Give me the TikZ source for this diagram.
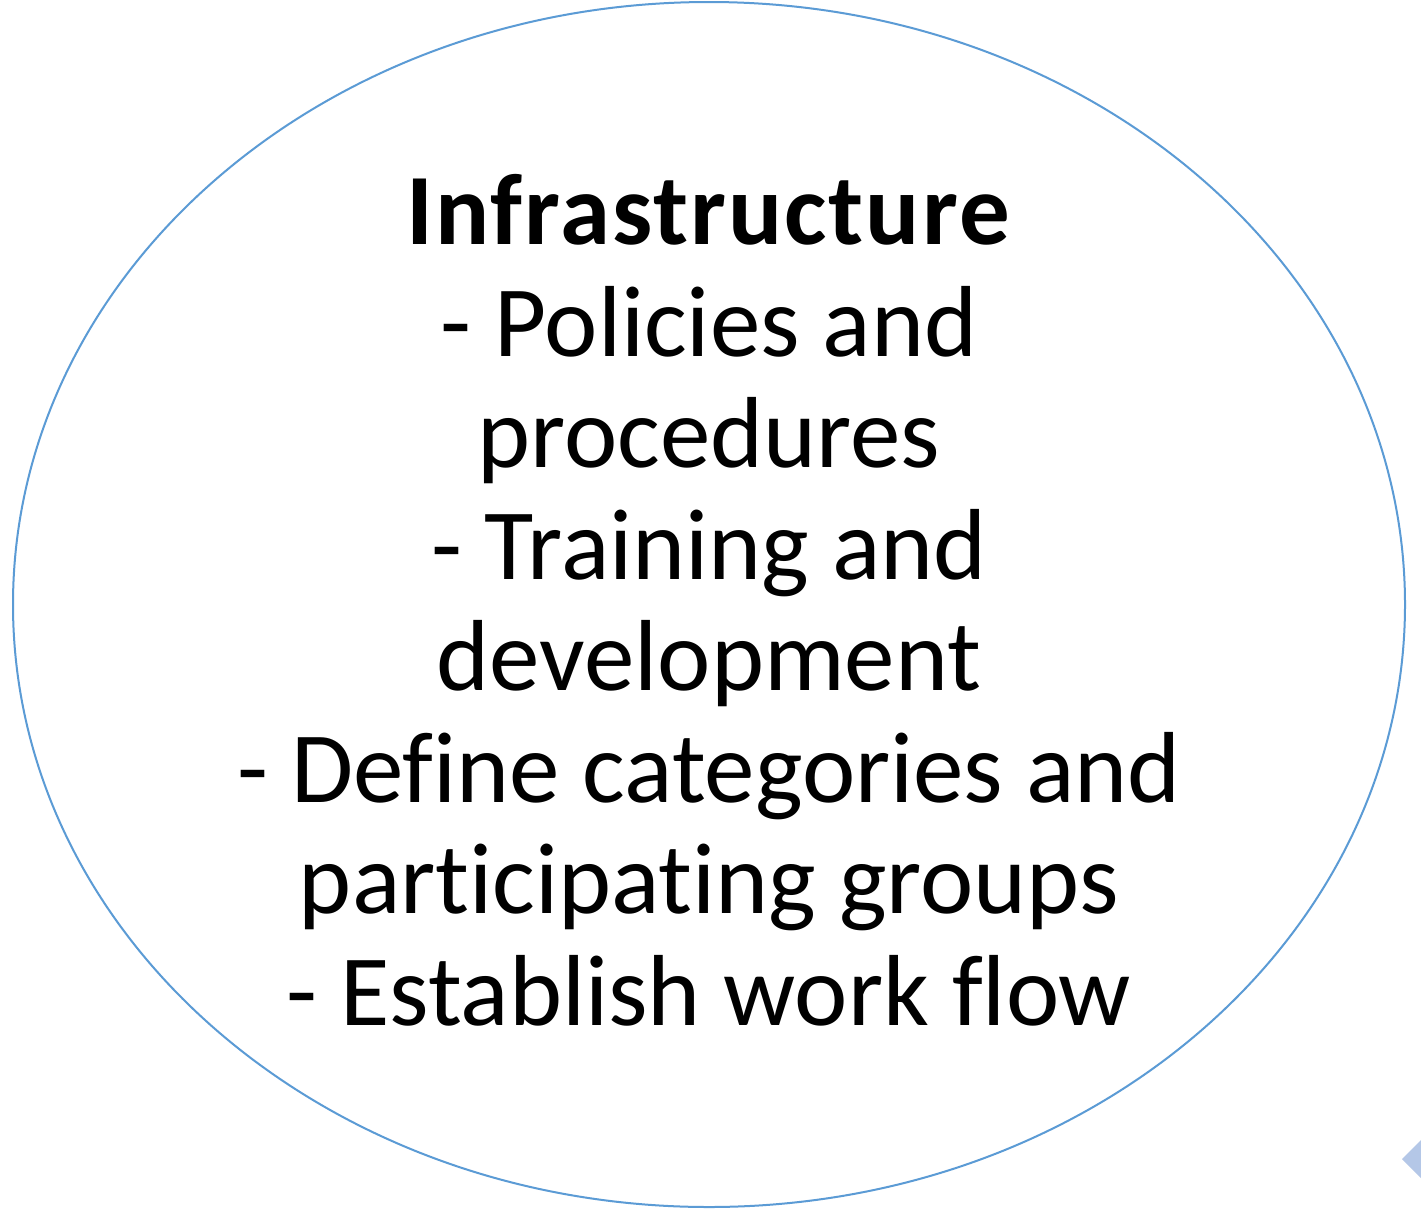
\documentclass[tikz,border=0pt]{standalone}
\usepackage{fontspec}
\setmainfont{Carlito}[Ligatures={NoCommon},BoldFeatures={LetterSpace=2}]
\usetikzlibrary{shapes.geometric}
\definecolor{ringblue}{HTML}{5B9BD5}
\definecolor{tipblue}{HTML}{B4C7E7}
\begin{document}
\begin{tikzpicture}[x=1pt,y=-1pt,
  ring/.style={draw=ringblue,line width=2pt},
  bodytext/.style={align=center,font=\fontsize{101}{111.5}\selectfont,inner sep=0pt}]
\useasboundingbox (0,0) rectangle (1421,1211);
\clip (0,0) rectangle (1421,1211);
\fill[white] (0,0) rectangle (1421,1211);
\node[ring,ellipse,minimum width=1392pt,minimum height=1205pt,inner sep=0pt] (oval) at (709,604.5) {};
\fill[tipblue] (1402,1159) -- (1424,1137) -- (1446,1159) -- (1424,1181) -- cycle;
\node[bodytext,anchor=center] (txt) at (709,600.5) {\textbf{Infrastructure}\\
- Policies and\\
procedures\\
- Training and\\
development\\
- Define categories and\\
participating groups\\
- Establish work flow};
\end{tikzpicture}
\end{document}
